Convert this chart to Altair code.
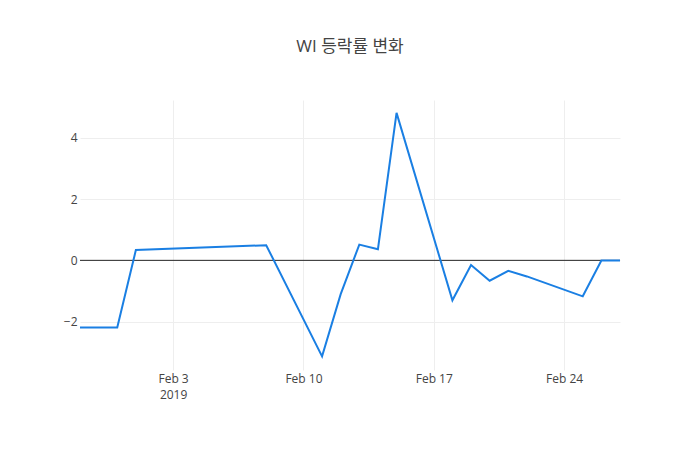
import altair as alt
import pandas as pd

dates = ["2019/01/29", "2019/01/31", "2019/02/01", "2019/02/08", "2019/02/11",
         "2019/02/12", "2019/02/13", "2019/02/14", "2019/02/15", "2019/02/18",
         "2019/02/19", "2019/02/20", "2019/02/21", "2019/02/22", "2019/02/25",
         "2019/02/26", "2019/02/27"]
values = [-2.19, -2.19, 0.34, 0.50, -3.13,
          -1.10, 0.52, 0.37, 4.82, -1.30,
          -0.15, -0.66, -0.34, -0.52, -1.17,
          0.0, 0.0]

df = pd.DataFrame({"date": dates, "value": values})

FONT = "'Open Sans', 'Noto Sans CJK KR', sans-serif"

x_enc = alt.X(
    "date:T",
    scale=alt.Scale(domain=[alt.DateTime(year=2019, month=1, date=29),
                            alt.DateTime(year=2019, month=2, date=27)]),
    axis=alt.Axis(
        values=[alt.DateTime(year=2019, month=2, date=d) for d in [3, 10, 17, 24]],
        labelExpr="date(datum.value) == 3 ? ['Feb 3', '2019'] : timeFormat(datum.value, '%b %-d')",
        title=None, grid=True, gridColor="#eeeeee", domain=False, ticks=False,
        labelFont=FONT, labelFontSize=12, labelColor="#444444", labelPadding=3,
        labelLineHeight=16, labelFlush=False,
    ),
)
y_scale = alt.Scale(domain=[-3.575, 5.24], nice=False, zero=False)
y_enc = alt.Y(
    "value:Q", scale=y_scale,
    axis=alt.Axis(values=[-2, 0, 2, 4], title=None, grid=True, gridColor="#eeeeee",
                  domain=False, ticks=False, labelFont=FONT, labelFontSize=12,
                  labelColor="#444444", labelPadding=3),
)

line = alt.Chart(df).mark_line(color="#1a7fe3", strokeWidth=2).encode(x=x_enc, y=y_enc)
zero = alt.Chart(df).mark_rule(color="#444444", strokeWidth=1).encode(
    y=alt.datum(0, scale=y_scale), x=alt.value(0), x2=alt.value(540))

chart = alt.layer(zero, line).properties(
    width=540, height=270,
    title=alt.TitleParams("WI 등락률 변화", font=FONT, fontSize=17, fontWeight="normal",
                          color="#444444", anchor="middle", offset=44),
    autosize=alt.AutoSizeParams(type="none"),
    padding={"left": 72, "top": 92, "right": 72, "bottom": 72},
).configure(background="white").configure_view(strokeWidth=0, stroke=None)

chart.save("out.html", embed_options={"renderer": "svg", "actions": False})
